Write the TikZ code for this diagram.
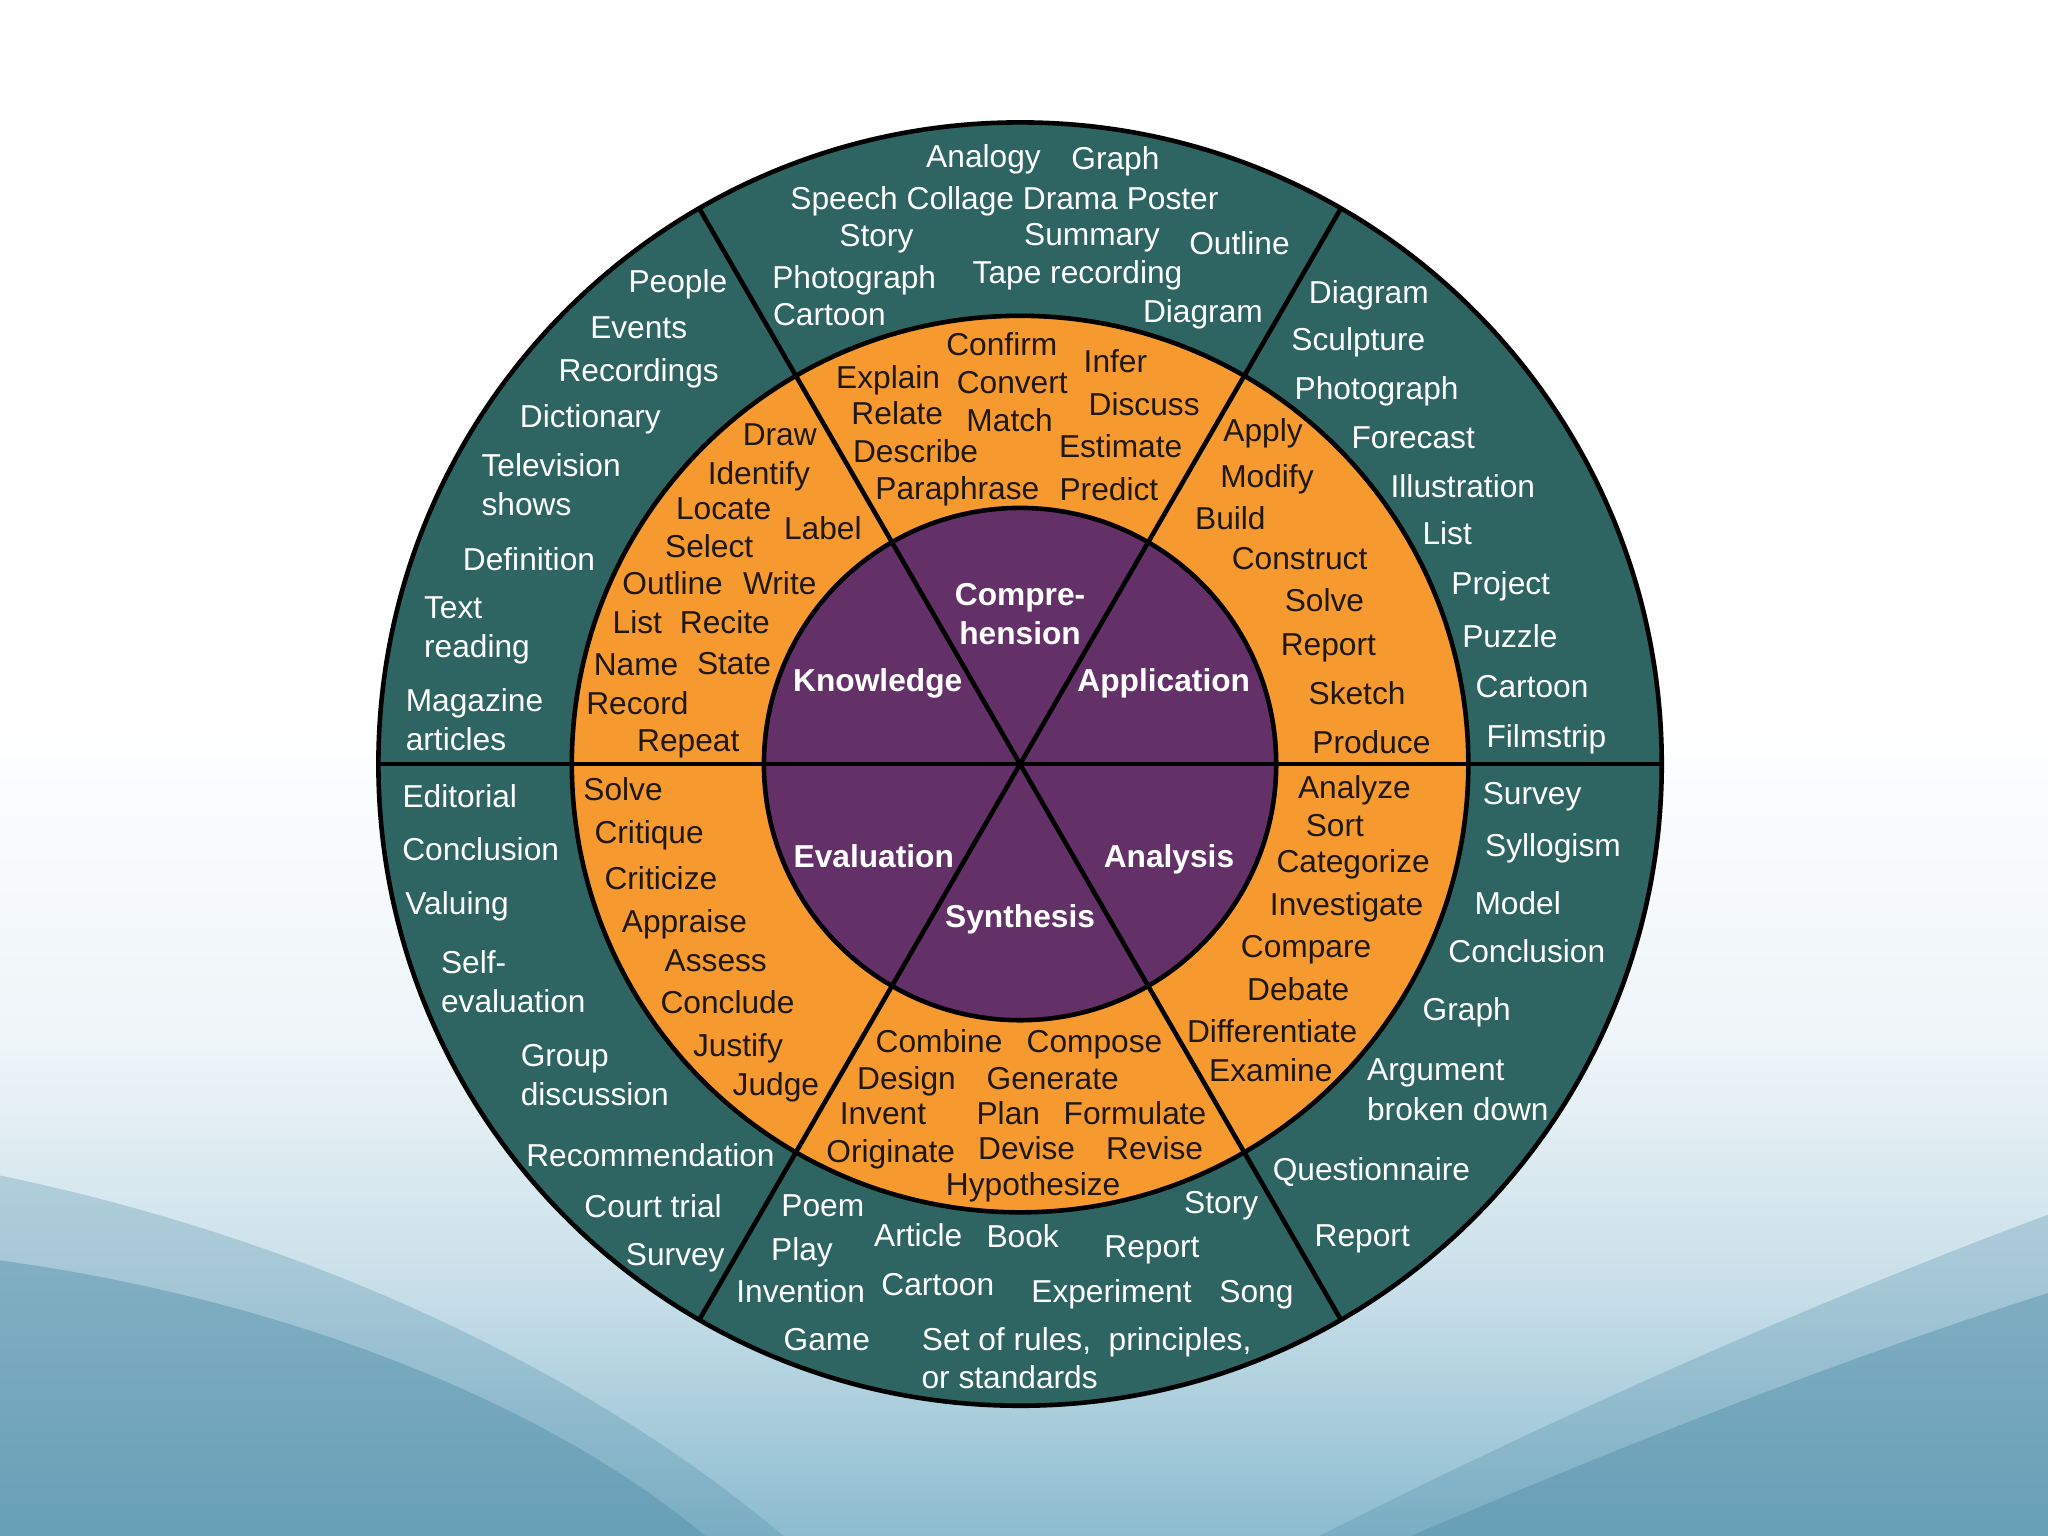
\documentclass[tikz,border=0pt]{standalone}
\usepackage{fontspec}
\setmainfont{Liberation Sans}
\definecolor{tealring}{RGB}{46,100,98}
\definecolor{orangering}{RGB}{246,154,48}
\definecolor{purplering}{RGB}{99,48,104}
\definecolor{darktext}{RGB}{30,24,14}
\definecolor{bgbot}{RGB}{82,143,170}
\definecolor{bgmid}{RGB}{140,188,207}
\definecolor{bglight}{RGB}{200,223,233}
\definecolor{bgpale}{RGB}{238,245,248}
\pgfdeclareverticalshading{bgshade}{100bp}{color(0bp)=(bgmid); color(25bp)=(bgmid); color(33bp)=(bglight); color(41bp)=(bgpale); color(52bp)=(white); color(100bp)=(white)}
\tikzset{
  tt/.style={text=white, inner sep=0pt, text height=0.716em, text depth=0pt, yshift=1pt, font=\fontsize{6.9}{8.55}\selectfont},
  ot/.style={text=darktext, inner sep=0pt, text height=0.716em, text depth=0pt, yshift=1pt, font=\fontsize{6.9}{8.55}\selectfont},
  pt/.style={text=white, inner sep=0pt, text height=0.716em, text depth=0pt, yshift=1pt, font=\fontsize{6.9}{8.55}\selectfont\bfseries},
  ring/.style={draw=black, line width=1pt},
  divider/.style={draw=black, line width=1pt}
}
\begin{document}
\begin{tikzpicture}[x=0.01cm, y=-0.01cm]
\useasboundingbox (0,0) rectangle (1568,1176);
% background
\shade[shading=bgshade] (0,0) rectangle (1568,1176);
\fill[bgbot, opacity=0.3] (0,900) .. controls (240,950) and (450,1050) .. (600,1176) -- (0,1176) -- cycle;
\fill[bgbot, opacity=0.45] (0,965) .. controls (220,995) and (420,1075) .. (540,1176) -- (0,1176) -- cycle;
\fill[bgbot, opacity=0.3] (1568,930) .. controls (1380,1000) and (1180,1090) .. (1010,1176) -- (1568,1176) -- cycle;
\fill[bgbot, opacity=0.45] (1568,990) .. controls (1380,1050) and (1200,1125) .. (1080,1176) -- (1568,1176) -- cycle;
% wheel
\coordinate (c) at (781,585);
\fill[tealring] (c) circle[radius=4.91cm];
\fill[orangering] (c) circle[radius=3.43cm];
\fill[purplering] (c) circle[radius=1.96cm];
\draw[divider] (c) ++(0:4.91cm) coordinate (e0) -- ++(180:9.82cm) coordinate (e180);
\draw[divider] (c) ++(60:4.91cm) coordinate (e60) -- ++(240:9.82cm) coordinate (e240);
\draw[divider] (c) ++(120:4.91cm) coordinate (e120) -- ++(300:9.82cm) coordinate (e300);
\draw[ring] (c) circle[radius=4.91cm];
\draw[ring] (c) circle[radius=3.43cm];
\draw[ring] (c) circle[radius=1.96cm];
% purple labels
\node[pt, align=center] (p1) at (781,484.5) {Compre-\\hension};
\node[pt] (p2) at (672,520) {Knowledge};
\node[pt] (p3) at (891,520) {Application};
\node[pt] (p4) at (669,655) {Evaluation};
\node[pt] (p5) at (895,655) {Analysis};
\node[pt] (p6) at (781,701) {Synthesis};
% orange: comprehension
\node[ot] (oc1) at (767,263) {Confirm};
\node[ot] (oc2) at (854,276) {Infer};
\node[ot] (oc3) at (680,288) {Explain};
\node[ot] (oc4) at (775,292) {Convert};
\node[ot] (oc5) at (876,309) {Discuss};
\node[ot] (oc6) at (687,316) {Relate};
\node[ot] (oc7) at (773,321) {Match};
\node[ot] (oc8) at (701,345) {Describe};
\node[ot] (oc9) at (858,341) {Estimate};
\node[ot] (oc10) at (733,373) {Paraphrase};
\node[ot] (oc11) at (849,374) {Predict};
% orange: knowledge
\node[ot] (ok1) at (597,332) {Draw};
\node[ot] (ok2) at (581,362) {Identify};
\node[ot] (ok3) at (554,389) {Locate};
\node[ot] (ok4) at (630,404) {Label};
\node[ot] (ok5) at (543,418) {Select};
\node[ot] (ok6) at (515,446) {Outline};
\node[ot] (ok7) at (597,446) {Write};
\node[ot] (ok8) at (488,476) {List};
\node[ot] (ok9) at (555,476) {Recite};
\node[ot] (ok10) at (487,508) {Name};
\node[ot] (ok11) at (562,507) {State};
\node[ot] (ok12) at (488,538) {Record};
\node[ot] (ok13) at (527,566) {Repeat};
% orange: application
\node[ot] (oa1) at (967,329) {Apply};
\node[ot] (oa2) at (970,364) {Modify};
\node[ot] (oa3) at (942,396) {Build};
\node[ot] (oa4) at (995,427) {Construct};
\node[ot] (oa5) at (1014,459) {Solve};
\node[ot] (oa6) at (1017,493) {Report};
\node[ot] (oa7) at (1039,530) {Sketch};
\node[ot] (oa8) at (1050,568) {Produce};
% orange: analysis
\node[ot] (on1) at (1037,602) {Analyze};
\node[ot] (on2) at (1022,631) {Sort};
\node[ot] (on3) at (1036,659) {Categorize};
\node[ot] (on4) at (1031,692) {Investigate};
\node[ot] (on5) at (1000,724) {Compare};
\node[ot] (on6) at (994,757) {Debate};
\node[ot] (on7) at (974,789) {Differentiate};
\node[ot] (on8) at (973,819) {Examine};
% orange: synthesis
\node[ot] (os1) at (719,797) {Combine};
\node[ot] (os2) at (838,797) {Compose};
\node[ot] (os3) at (694,825) {Design};
\node[ot] (os4) at (806,825) {Generate};
\node[ot] (os5) at (676,852) {Invent};
\node[ot] (os6) at (772,852) {Plan};
\node[ot] (os7) at (869,852) {Formulate};
\node[ot] (os8) at (682,881) {Originate};
\node[ot] (os9) at (786,879) {Devise};
\node[ot] (os10) at (884,879) {Revise};
\node[ot] (os11) at (791,906) {Hypothesize};
% orange: evaluation
\node[ot] (oe1) at (477,604) {Solve};
\node[ot] (oe2) at (497,637) {Critique};
\node[ot] (oe3) at (506,672) {Criticize};
\node[ot] (oe4) at (524,705) {Appraise};
\node[ot] (oe5) at (548,735) {Assess};
\node[ot] (oe6) at (557,767) {Conclude};
\node[ot] (oe7) at (565,800) {Justify};
\node[ot] (oe8) at (594,830) {Judge};
% teal: top
\node[tt] (tc1) at (753,119) {Analogy};
\node[tt] (tc2) at (854,121) {Graph};
\node[tt] (tc3) at (769,151) {Speech Collage Drama Poster};
\node[tt] (tc4) at (671,180) {Story};
\node[tt] (tc5) at (836,179) {Summary};
\node[tt] (tc6) at (949,186) {Outline};
\node[tt] (tc7) at (654,212) {Photograph};
\node[tt] (tc8) at (825,208) {Tape recording};
\node[tt] (tc9) at (635,240) {Cartoon};
\node[tt] (tc10) at (921,238) {Diagram};
% teal: top-left
\node[tt] (tk1) at (519,215) {People};
\node[tt] (tk2) at (489,250) {Events};
\node[tt] (tk3) at (489,283) {Recordings};
\node[tt] (tk4) at (452,318) {Dictionary};
\node[tt, align=left, anchor=west] (tk5) at (368,385.5) {Television\\shows};
\node[tt] (tk6) at (405,428) {Definition};
\node[tt, align=left, anchor=west] (tk7) at (324,494.5) {Text\\reading};
\node[tt, align=left, anchor=west] (tk8) at (310,565.5) {Magazine\\articles};
% teal: top-right
\node[tt] (ta1) at (1048,223) {Diagram};
\node[tt] (ta2) at (1040,259) {Sculpture};
\node[tt] (ta3) at (1054,297) {Photograph};
\node[tt] (ta4) at (1082,334) {Forecast};
\node[tt] (ta5) at (1120,372) {Illustration};
\node[tt] (ta6) at (1108,408) {List};
\node[tt] (ta7) at (1149,446) {Project};
\node[tt] (ta8) at (1156,487) {Puzzle};
\node[tt] (ta9) at (1173,525) {Cartoon};
\node[tt] (ta10) at (1184,563) {Filmstrip};
% teal: bottom-right
\node[tt] (tn1) at (1173,607) {Survey};
\node[tt] (tn2) at (1189,647) {Syllogism};
\node[tt] (tn3) at (1162,691) {Model};
\node[tt] (tn4) at (1169,728) {Conclusion};
\node[tt] (tn5) at (1123,772) {Graph};
\node[tt, align=left, anchor=west] (tn6) at (1046,848.5) {Argument\\broken down};
\node[tt] (tn7) at (1050,895) {Questionnaire};
\node[tt] (tn8) at (1043,945) {Report};
% teal: bottom
\node[tt] (ts1) at (630,922) {Poem};
\node[tt] (ts2) at (935,920) {Story};
\node[tt] (ts3) at (614,956) {Play};
\node[tt] (ts4) at (703,945) {Article};
\node[tt] (ts5) at (783,946) {Book};
\node[tt] (ts6) at (882,954) {Report};
\node[tt] (ts7) at (613,988) {Invention};
\node[tt] (ts8) at (718,983) {Cartoon};
\node[tt] (ts9) at (851,988) {Experiment};
\node[tt] (ts10) at (962,988) {Song};
\node[tt] (ts11) at (633,1025) {Game};
\node[tt] (ts12) at (832,1025) {Set of rules,\ \ principles,};
\node[tt] (ts13) at (773,1054) {or standards};
% teal: bottom-left
\node[tt] (te1) at (352,609) {Editorial};
\node[tt] (te2) at (368,650) {Conclusion};
\node[tt] (te3) at (350,691) {Valuing};
\node[tt, align=left, anchor=west] (te4) at (337,766.5) {Self-\\evaluation};
\node[tt, align=left, anchor=west] (te5) at (398,837.5) {Group\\discussion};
\node[tt] (te6) at (498,884) {Recommendation};
\node[tt] (te7) at (500,923) {Court trial};
\node[tt] (te8) at (517,960) {Survey};
\end{tikzpicture}
\end{document}
